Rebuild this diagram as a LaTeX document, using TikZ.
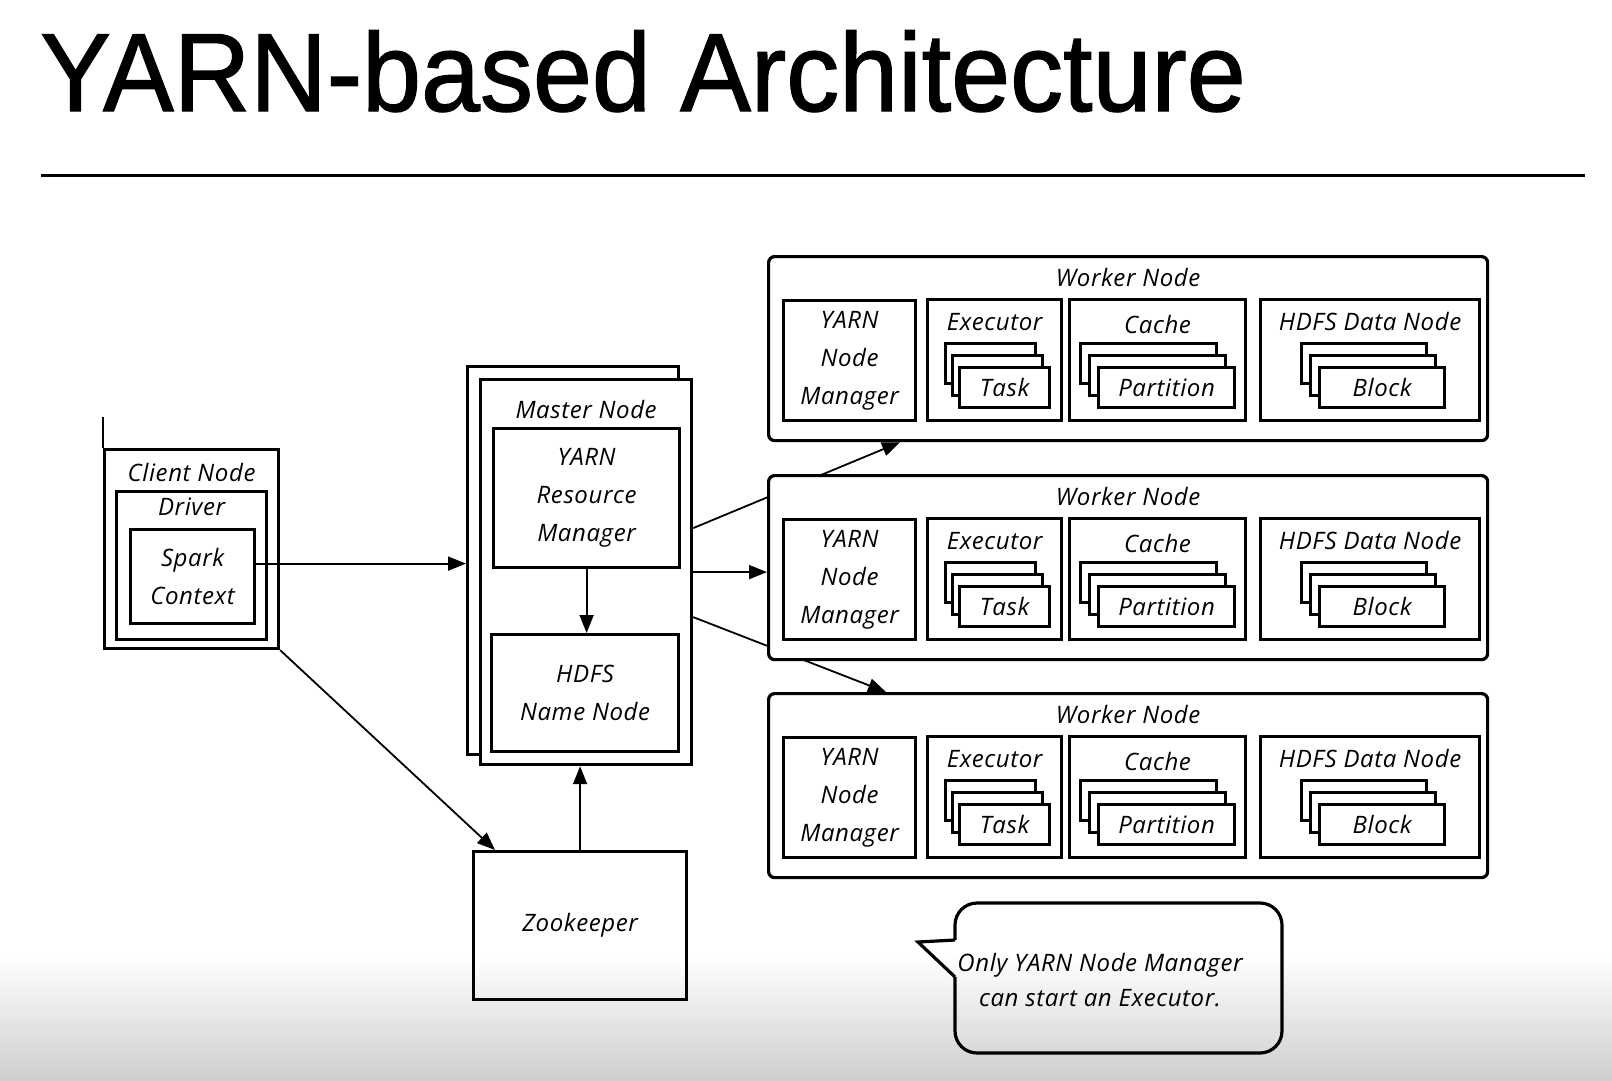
\documentclass[tikz,border=0pt]{standalone}
\usepackage{fontspec}
\setmainfont{Liberation Sans}
\newfontfamily\titlefont{Liberation Sans}[FakeBold=1.2]
\newfontfamily\handfont{Open Sans}[LetterSpace=2.5]
\usetikzlibrary{positioning, arrows.meta, backgrounds}

\begin{document}
\begin{tikzpicture}[x=1pt, y=-1pt,
    box/.style={draw, line width=3.2pt, fill=white, anchor=north west, inner sep=0pt},
    card/.style={box, minimum height=40pt},
    hand/.style={font=\handfont\itshape\fontsize{24}{38}\selectfont, inner sep=0pt, align=center},
    conn/.style={line width=1.8pt, -{Triangle[length=18pt, width=14pt]}}]

        % Page and bottom fade
        \useasboundingbox (0,0) rectangle (1612,1080);
        \begin{scope}[on background layer]
        \fill[white] (0,0) rectangle (1612,1080);
        \shade[top color=white, bottom color=black!19] (0,955) rectangle (1612,1080);
        \end{scope}

        % Title and rule
        \node[anchor=base west, inner sep=0pt, font=\titlefont\fontsize{106}{110}\selectfont] (title) at (40,111) {\scalebox{1}[1.05]{YARN-based Architecture}};
        \coordinate (ruleL) at (41,175);
        \coordinate (ruleR) at (1585,175);
        \draw[line width=3pt] (ruleL) -- (ruleR);

        % Client node
        \node[box, minimum width=174pt, minimum height=199pt] (client) at (103,448) {};
        \node[hand, below=15pt of client.north] (client-lbl) {Client Node};
        \node[box, minimum width=150pt, minimum height=148pt] (driver) at (115,490) {};
        \node[hand, below=8pt of driver.north] (driver-lbl) {Driver};
        \node[box, minimum width=124pt, minimum height=94pt] (spark) at (129,528) {};
        \node[hand] (spark-lbl) at (spark.center) {Spark\\Context};
        \coordinate (clienttick) at (103,417);
        \draw[line width=2pt] (clienttick) -- (client.north west);

        % Master node (two sheets)
        \node[box, minimum width=211pt, minimum height=388pt] (mback) at (466,365) {};
        \node[box, minimum width=211pt, minimum height=385pt] (mfront) at (479,378) {};
        \node[hand, below=22pt of mfront.north] (master-lbl) {Master Node};
        \node[box, minimum width=186pt, minimum height=139pt] (rm) at (492,427) {};
        \node[hand] (rm-lbl) at (rm.center) {YARN\\Resource\\Manager};
        \node[box, minimum width=187pt, minimum height=117pt] (nn) at (490,633) {};
        \node[hand] (nn-lbl) at (nn.center) {HDFS\\Name Node};

        % Zookeeper
        \node[box, fill=none, minimum width=213pt, minimum height=148pt] (zk) at (472,850) {};
        \node[hand] (zk-lbl) at (zk.center) {Zookeeper};

        % Worker nodes
        \foreach \w/\wy in {1/255, 2/474, 3/692} {
            \node[box, rounded corners=6pt, minimum width=719pt, minimum height=184pt] (w\w) at (767,\wy) {};
            \node[hand, below=13pt of w\w.north] (w\w-lbl) {Worker Node};
            \node[box, minimum width=132pt, minimum height=120pt] (nm\w) at (782,\wy+44) {};
            \node[hand] (nm\w-lbl) at (nm\w.center) {YARN\\Node\\Manager};
            \node[box, minimum width=134pt, minimum height=121pt] (ex\w) at (926,\wy+43) {};
            \node[hand, below=15pt of ex\w.north] (ex\w-lbl) {Executor};
            \node[box, minimum width=176pt, minimum height=121pt] (ca\w) at (1068,\wy+43) {};
            \node[hand, below=17pt of ca\w.north] (ca\w-lbl) {Cache};
            \node[box, minimum width=219pt, minimum height=121pt] (dn\w) at (1259,\wy+43) {};
            \node[hand, below=14pt of dn\w.north] (dn\w-lbl) {HDFS Data Node};
            % stacked cards, back to front
            \foreach \k in {2,1} {
                \node[card, minimum width=90pt] (task\w-\k) at (958-7*\k,\wy+111-12*\k) {};
                \node[card, minimum width=136pt] (part\w-\k) at (1097-9*\k,\wy+111-12*\k) {};
                \node[card, minimum width=125pt] (block\w-\k) at (1318-9*\k,\wy+111-12*\k) {};
            }
            \node[card, hand, minimum width=90pt] (task\w) at (958,\wy+111) {Task};
            \node[card, hand, minimum width=136pt] (part\w) at (1097,\wy+111) {Partition};
            \node[card, hand, minimum width=125pt] (block\w) at (1318,\wy+111) {Block};
        }

        % Master to workers, passing behind the middle worker
        \begin{scope}[on background layer]
        \draw[conn] ([yshift=44pt]mfront.east) -- ([xshift=133pt]w1.south west);
        \draw[conn] ([yshift=-45pt]mfront.east) -- ([xshift=119pt]w3.north west);
        \end{scope}
        \draw[conn] (mfront.east) -- (mfront.east -| w2.west);

        % Other connectors
        \coordinate (sparkout) at ([yshift=13pt]spark.east);
        \draw[conn] (sparkout) -- (sparkout -| mback.west);
        \draw[conn] (client.south east) -- ([xshift=23pt]zk.north west);
        \draw[conn] (zk.north) -- (zk.north |- mfront.south);
        \draw[conn] (rm.south) -- (rm.south |- nn.north);

        % Callout
        \coordinate (tip) at (918,942);
        \coordinate (tailtop) at (955,940);
        \coordinate (tailbot) at (955,977);
        \draw[line width=3.2pt, rounded corners=22pt] (tailtop) -- (955,903) -- (1282,903) -- (1282,1053) -- (955,1053) -- (tailbot);
        \draw[line width=3.2pt, line join=miter] (tailtop) -- (tip) -- (tailbot);
        \node[hand, font=\handfont\itshape\fontsize{24}{35}\selectfont] (note) at (1100,980) {Only YARN Node Manager\\can start an Executor.};
    \end{tikzpicture}
\end{document}
